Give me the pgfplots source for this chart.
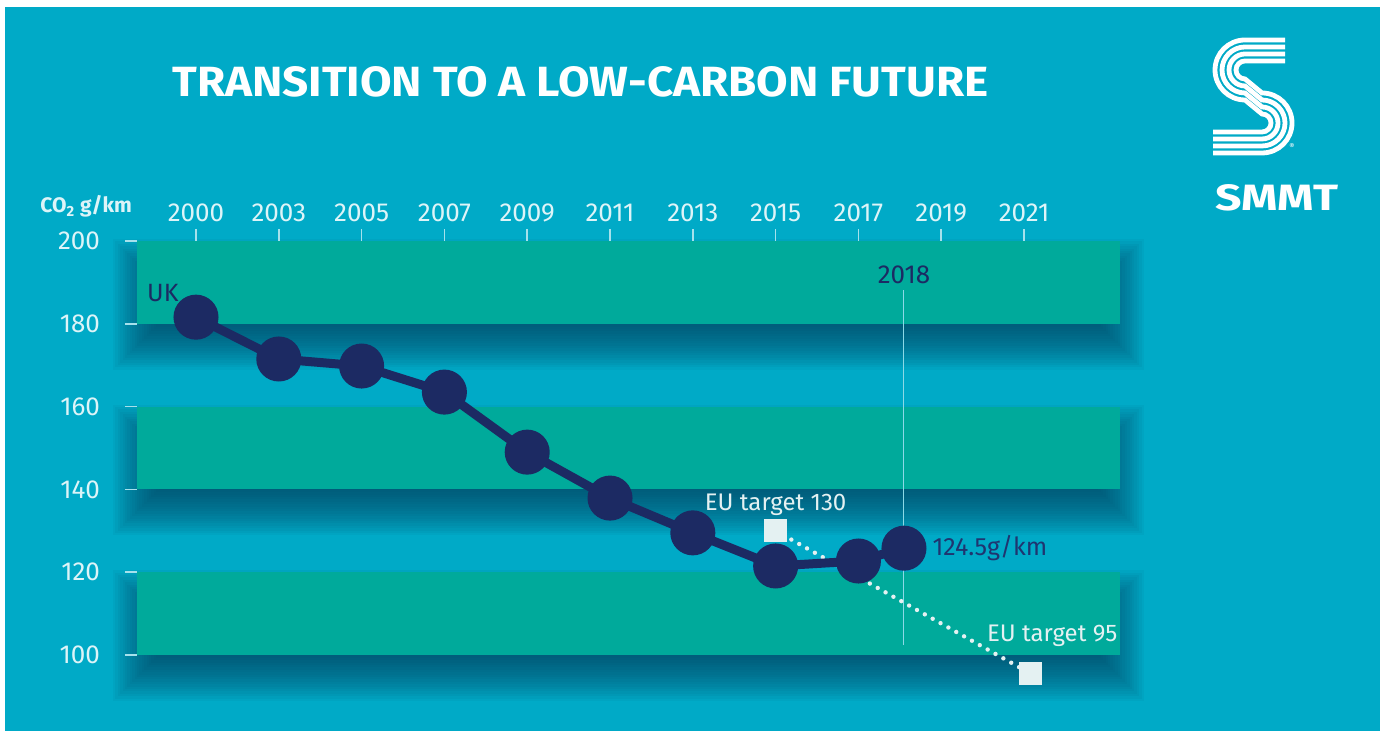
\documentclass[border=0pt]{standalone}
\usepackage{fontspec}
\setmainfont{Fira Sans}
\usepackage{pgfplots}
\pgfplotsset{compat=1.18}
\definecolor{bg}{HTML}{00AAC7}
\definecolor{band}{HTML}{00AA9B}
\definecolor{navy}{HTML}{1C2A63}
\definecolor{navy2}{HTML}{1F3570}
\definecolor{shadowc}{HTML}{00405E}
\definecolor{ticklab}{HTML}{DDF4F8}
\definecolor{sq}{HTML}{E4F1F2}
\begin{document}
\begin{tikzpicture}
\begin{scope}[x=0.5pt,y=0.5pt]
\fill[white] (0,0) rectangle (1380,731);
\fill[bg] (5,0) rectangle (1380,724);
\foreach \yb/\yt in {407.2/490, 241.6/324.4, 76/158.8}{
  \foreach \j in {0,...,20}{
    \pgfmathsetmacro\e{-24+2.4*\j}
    \fill[shadowc, opacity=0.055] (137-\e, \yb-22-\e) rectangle (1120+\e, \yt-22+\e);
  }
  \fill[band] (137,\yb) rectangle (1120,\yt);
}
% logo
\foreach \k in {0,1,2,3}{
  \pgfmathsetmacro\r{9+7*\k}
  \pgfmathsetmacro\R{9+7*(3-\k)}
  \draw[white, line width=2.4pt] (1285,661+\r) -- (1245,661+\r) arc[start angle=90,end angle=270,radius=\r] -- (1262,608+\R) arc[start angle=90,end angle=-90,radius=\R] -- (1213,608-\R);
}
\end{scope}
\node[white, inner sep=0, font=\fontsize{4}{4}\selectfont] at (646pt,292pt) {®};
\node[anchor=base west, white, inner sep=0] at (607.5pt,260pt) {\resizebox{61.5pt}{13pt}{\bfseries SMMT}};
\node[anchor=base west, white, inner sep=0] at (86pt,317pt) {\resizebox{408pt}{15pt}{\bfseries TRANSITION TO A LOW-CARBON FUTURE}};
\node[anchor=base west, ticklab, inner sep=0, font=\bfseries\fontsize{10.5}{10.5}\selectfont] at (20pt,259pt) {CO\textsubscript{2} g/km};
\begin{axis}[at={(68.5pt,38pt)}, anchor=south west, scale only axis,
  width=491.5pt, height=207pt,
  xmin=-0.7126, xmax=11.159, ymin=100, ymax=200, clip=false,
  axis x line*=top, axis y line*=left, axis line style={draw=none},
  xtick={0,...,10},
  xticklabels={2000,2003,2005,2007,2009,2011,2013,2015,2017,2019,2021},
  ytick={100,120,...,200},
  tick align=outside, major tick length=6pt,
  tick style={ticklab!75!bg, line width=0.8pt},
  ticklabel style={text=ticklab, font=\fontsize{13}{13}\selectfont},
  yticklabel style={xshift=-9pt},
  /pgf/number format/assume math mode=true,
]
\draw[white!55!bg, line width=0.5pt] (axis cs:8.55,102.4) -- (axis cs:8.55,188.2);
\addplot[sq, line width=2.2pt, dash pattern=on 0pt off 4.5pt, line cap=round] coordinates {(7,130) (10.08,95.5)};
\addplot[only marks, mark=square*, mark size=5.5pt, sq, mark options={draw=sq, fill=sq}] coordinates {(7,130) (10.08,95.5)};
\addplot[navy, line width=4.5pt, mark=*, mark size=9pt, mark options={fill=navy, draw=navy}] coordinates {
 (0,181.6) (1,171.5) (2,169.8) (3,163.5) (4,149.0) (5,137.9) (6,129.5) (7,121.5) (8,122.7) (8.55,125.8)};
\node[navy, font=\fontsize{12.5}{12.5}\selectfont] at (axis cs:-0.4,187.4) {UK};
\node[navy, font=\fontsize{13}{13}\selectfont] at (axis cs:8.55,191.8) {2018};
\node[anchor=west, inner sep=0, navy2, font=\fontsize{12.5}{12.5}\selectfont] at (axis cs:8.89,125.8) {124.5g/km};
\node[sq, font=\fontsize{12}{12}\selectfont] at (axis cs:7,136.2) {EU target 130};
\node[sq, font=\fontsize{12}{12}\selectfont] at (axis cs:10.34,104.6) {EU target 95};
\end{axis}
\end{tikzpicture}
\end{document}
